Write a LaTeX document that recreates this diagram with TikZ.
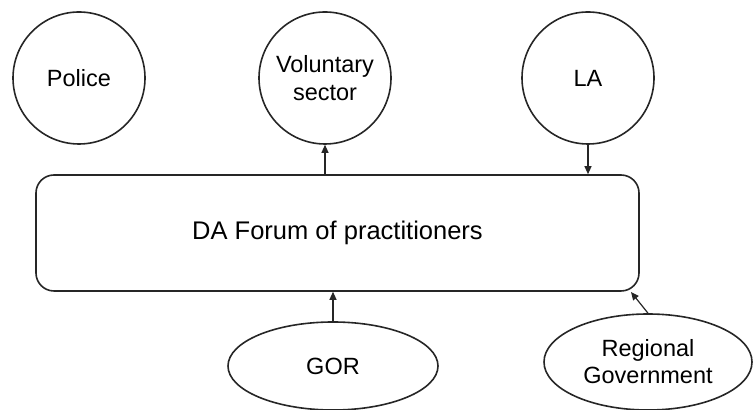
\documentclass[tikz,border=0pt]{standalone}
\usepackage{fontspec}
\setmainfont{Liberation Sans}
\definecolor{inkgray}{HTML}{262626}
\usetikzlibrary{shapes.geometric,arrows.meta,positioning}

\begin{document}
\begin{tikzpicture}[x=0.5pt,y=-0.5pt,
  agency/.style={draw=inkgray,line width=0.8pt,circle,minimum size=66pt,inner sep=0pt,align=center,font=\fontsize{11.75}{14}\selectfont},
  govbody/.style={draw=inkgray,line width=0.8pt,ellipse,inner sep=0pt,align=center,font=\fontsize{11.75}{13.5}\selectfont},
  link/.style={inkgray,line width=0.6pt,-{Triangle[length=4pt,width=3.5pt]}}]
  \useasboundingbox (0,0) rectangle (755,410);
  % agencies on top
  \node[agency] (police) at (79,78) {Police};
  \node[agency] (vol) at (325,78) {Voluntary\\sector};
  \node[agency] (la) at (588,78) {LA};
  % forum
  \node[draw=inkgray,line width=0.8pt,rounded corners=9pt,minimum width=301.5pt,minimum height=58pt,inner sep=0pt,font=\fontsize{12.75}{15}\selectfont] (forum) at (337.5,233) {DA Forum of practitioners};
  % government bodies below
  \node[govbody,minimum width=105pt,minimum height=44pt] (gor) at (333,366) {GOR};
  \node[govbody,minimum width=104pt,minimum height=48pt] (regov) at (648,362) {Regional\\Government};
  \coordinate (corner) at (631,292);
  \draw[link] (forum.north -| vol.south) -- (vol.south);
  \draw[link] (la.south) -- (forum.north -| la.south);
  \draw[link] (gor.north) -- (forum.south -| gor.north);
  \draw[link] (regov.north) -- (corner);
\end{tikzpicture}
\end{document}
